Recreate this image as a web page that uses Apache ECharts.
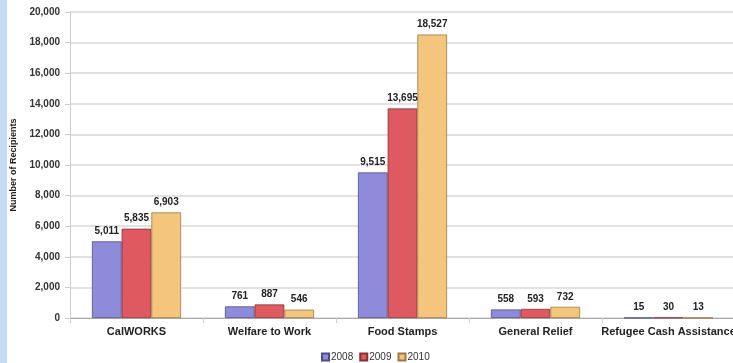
<!DOCTYPE html>
<html><head><meta charset="utf-8">
<script src="https://cdn.jsdelivr.net/npm/echarts@6/dist/echarts.min.js"></script>
<style>html,body{margin:0;padding:0;background:#fff;overflow:hidden}
#strip{position:absolute;left:0;top:0;width:7px;height:363px;background:#c5dbf1}
#c{position:absolute;left:0;top:0;width:733px;height:363px}</style>
</head><body><div id="c"></div><div id="strip"></div>
<script>
const categories = ['CalWORKS', 'Welfare to Work', 'Food Stamps', 'General Relief', 'Refugee Cash Assistance'];
const years = ['2008', '2009', '2010'];
const v2008 = [5011, 761, 9515, 558, 15];
const v2009 = [5835, 887, 13695, 593, 30];
const v2010 = [6903, 546, 18527, 732, 13];
const yTicks = [0, 2000, 4000, 6000, 8000, 10000, 12000, 14000, 16000, 18000, 20000];

const colors = ['#8e8cda', '#df5a60', '#f3c57d'];
const borders = ['#4f4c8a', '#8a2f33', '#9a7a45'];
const font = 'Liberation Sans, Arial, sans-serif';
const chart = echarts.init(document.getElementById('c'), null, {renderer: 'canvas'});
const fmt = v => v.toLocaleString('en-US');
const series = [v2008, v2009, v2010].map((d, i) => ({
  name: years[i], type: 'bar', data: d, barGap: '0%', barCategoryGap: '33%',
  itemStyle: {color: colors[i], borderColor: borders[i], borderWidth: 0.8},
  label: {show: true, position: 'top', distance: 5, formatter: p => fmt(p.value),
    fontFamily: font, fontWeight: 'bold', fontSize: 10, color: '#222'}
}));
chart.setOption({
  animation: false,
  backgroundColor: '#fff',
  grid: {left: 70, right: -2, top: 12, bottom: 45, outerBoundsMode: 'none', containLabel: false},
  legend: {left: 316, top: 347, itemWidth: 7, itemHeight: 7, itemGap: 6,
    icon: 'rect', textStyle: {fontFamily: font, fontSize: 10, color: '#333', padding: [0,0,0,-3]},
    data: years},
  xAxis: {type: 'category', data: categories,
    axisLine: {lineStyle: {color: '#aaa'}}, axisTick: {show: true, lineStyle: {color: '#ccc'}},
    axisLabel: {fontFamily: font, fontWeight: 'bold', fontSize: 11, color: '#222', margin: 8, interval: 0, hideOverlap: false}},
  yAxis: {type: 'value', min: yTicks[0], max: yTicks[yTicks.length-1], interval: 2000,
    name: 'Number of Recipients', nameLocation: 'middle', nameRotate: 90, nameGap: 50,
    nameTextStyle: {fontFamily: font, fontWeight: 'bold', fontSize: 9, color: '#222'},
    axisLine: {show: true, lineStyle: {color: '#ccc'}}, axisTick: {show: true, length: 5, lineStyle: {color: '#ccc'}},
    splitLine: {lineStyle: {color: '#d8d8d8', width: 1.5}},
    axisLabel: {fontFamily: font, fontWeight: 'bold', fontSize: 10, color: '#333', margin: 10, formatter: v => fmt(v)}},
  series: series
});
</script></body></html>
